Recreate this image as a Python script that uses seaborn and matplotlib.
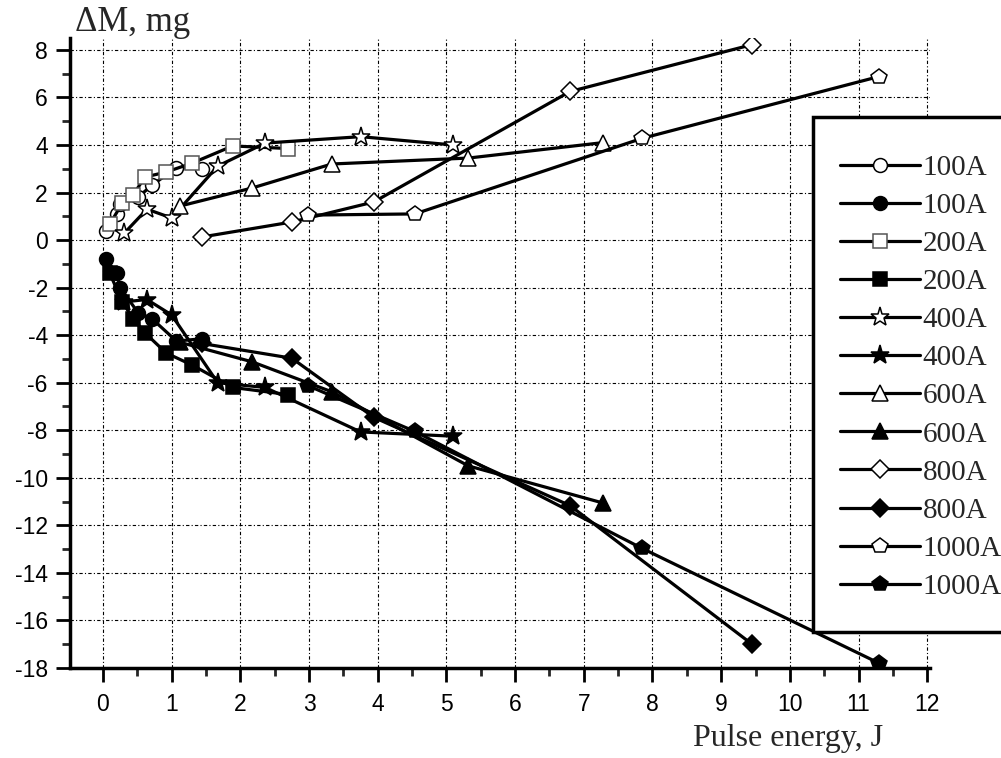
import matplotlib
matplotlib.use("Agg")
import matplotlib.pyplot as plt
import seaborn as sns
from matplotlib.patches import Rectangle
from matplotlib.ticker import MultipleLocator

# Pulse energy (J) and mass change (mg)
x_100 = [0.04, 0.20, 0.25, 0.51, 0.71, 1.07, 1.44]
y_100_open = [0.40, 1.10, 1.50, 1.80, 2.30, 3.05, 3.00]
y_100_fill = [-0.80, -1.40, -2.00, -3.05, -3.30, -4.25, -4.15]

x_200 = [0.10, 0.28, 0.44, 0.61, 0.92, 1.30, 1.89, 2.70]
y_200_open = [0.67, 1.55, 1.90, 2.65, 2.86, 3.24, 3.96, 3.85]
y_200_fill = [-1.40, -2.60, -3.30, -3.90, -4.75, -5.26, -6.20, -6.50]

x_400 = [0.31, 0.64, 1.00, 1.67, 2.36, 3.75, 5.10]
y_400_open = [0.29, 1.30, 0.93, 3.11, 4.08, 4.35, 4.00]
y_400_fill = [-2.60, -2.50, -3.15, -6.00, -6.20, -8.07, -8.25]

x_600 = [1.12, 2.17, 3.33, 5.32, 7.28]
y_600_open = [1.43, 2.19, 3.20, 3.45, 4.10]
y_600_fill = [-4.30, -5.12, -6.38, -9.50, -11.06]

x_800 = [1.44, 2.75, 3.94, 6.80, 9.45]
y_800_open = [0.13, 0.76, 1.60, 6.25, 8.22]
y_800_fill = [-4.35, -4.97, -7.45, -11.17, -17.00]

x_1000 = [2.98, 4.54, 7.85, 11.30]
y_1000_open = [1.05, 1.10, 4.28, 6.88]
y_1000_fill = [-6.12, -8.05, -12.97, -17.80]

labels = ["100A", "200A", "400A", "600A", "800A", "1000A"]

series = [
    (x_100, y_100_open, y_100_fill, "o", 10),
    (x_200, y_200_open, y_200_fill, "s", 9.5),
    (x_400, y_400_open, y_400_fill, "*", 14),
    (x_600, y_600_open, y_600_fill, "^", 11),
    (x_800, y_800_open, y_800_fill, "D", 9),
    (x_1000, y_1000_open, y_1000_fill, "p", 11.5),
]

sns.set_style("ticks")
plt.rcParams["font.family"] = ["Liberation Sans", "DejaVu Sans"]
plt.rcParams["axes.unicode_minus"] = False

W, H = 1001, 758
fig = plt.figure(figsize=(W / 100, H / 100), dpi=100)
ax = fig.add_axes([70 / W, (H - 668) / H, (930 - 70) / W, (668 - 38) / H])

for (xs, y_open, y_fill, mk, ms), lab in zip(series, labels):
    edge = "#555555" if mk == "s" else "black"
    sns.lineplot(x=xs, y=y_open, ax=ax, color="black", lw=2.3, marker=mk,
                 markersize=ms, markerfacecolor="white", markeredgecolor=edge,
                 markeredgewidth=1.1, label=lab, sort=False, estimator=None)
    sns.lineplot(x=xs, y=y_fill, ax=ax, color="black", lw=2.3, marker=mk,
                 markersize=ms, markerfacecolor="black", markeredgecolor="black",
                 markeredgewidth=1.1, label=lab, sort=False, estimator=None)

ax.set_xlim(-0.48, 12.04)
ax.set_ylim(-18, 8.5)
ax.xaxis.set_major_locator(MultipleLocator(1))
ax.xaxis.set_minor_locator(MultipleLocator(0.5))
ax.yaxis.set_major_locator(MultipleLocator(2))
ax.yaxis.set_minor_locator(MultipleLocator(1))
ax.grid(True, which="major", color="black", lw=0.8, linestyle=(0, (3, 2, 1, 2)))
ax.set_axisbelow(True)

sns.despine(ax=ax)
for side in ["left", "bottom"]:
    ax.spines[side].set_linewidth(2.5)
    ax.spines[side].set_color("black")
ax.tick_params(axis="both", which="major", direction="out", length=10, width=2,
               labelsize=16.5, colors="black")
ax.tick_params(axis="x", which="major", pad=8)
ax.tick_params(axis="y", which="major", pad=6)
ax.tick_params(axis="both", which="minor", direction="out", length=6, width=2)
ax.set_xlabel("")
ax.set_ylabel("")

# legend with hand-placed frame (it runs off the right edge like the original)
handles, labs = ax.get_legend_handles_labels()
if ax.get_legend():
    ax.get_legend().remove()
leg = fig.legend(handles, labs, loc="upper left",
                 bbox_to_anchor=(825 / W, 1 - 140 / H), frameon=False,
                 borderpad=0, handlelength=2.75, handletextpad=0.1,
                 labelspacing=0.40, prop={"family": "Liberation Serif", "size": 21})
fig.patches.append(Rectangle((813 / W, 1 - 632 / H), 0.3, (632 - 117) / H,
                             transform=fig.transFigure, fill=True, facecolor="white",
                             edgecolor="black", lw=2.5, zorder=2))
leg.set_zorder(3)

fig.text(75 / W, 1 - 31 / H, "ΔM, mg", family="Liberation Serif", size=25,
         va="baseline", ha="left")
fig.text(788 / W, 1 - 746 / H, "Pulse energy, J", family="Liberation Serif",
         size=23, va="baseline", ha="center")

fig.savefig("out.png", dpi=100, facecolor="white")
